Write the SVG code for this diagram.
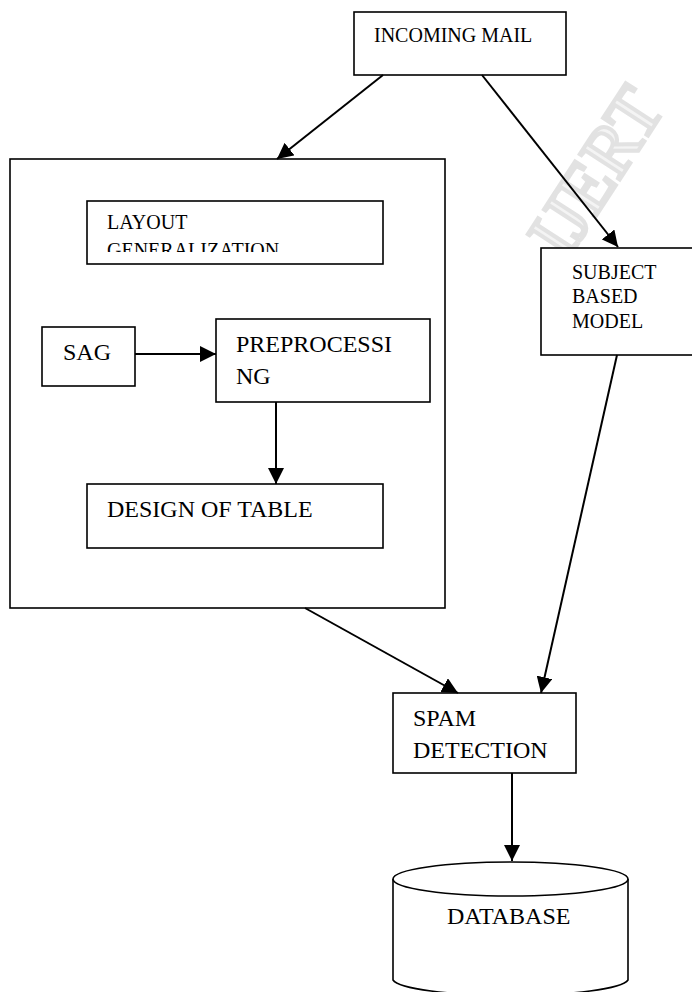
<svg xmlns="http://www.w3.org/2000/svg" width="692" height="992" viewBox="0 0 692 992">
<style>
.box{fill:#fff;stroke:#000;stroke-width:1.6}
.t{font-family:"Liberation Serif","Times New Roman",serif;fill:#000}
.s20{font-size:20px}
.s24{font-size:24px}
.con{stroke:#000;stroke-width:2;fill:none}
.wm{font-family:"Liberation Serif",serif;font-size:72px;fill:#f4f4f4;stroke:#e2e2e2;stroke-width:4}
</style>
<defs>
<marker id="ah" viewBox="0 0 16 16" markerWidth="16" markerHeight="16" refX="16" refY="8" orient="auto" markerUnits="userSpaceOnUse">
<path d="M0,0 L16,8 L0,16 z" fill="#000"/>
</marker>
<clipPath id="lgclip"><rect x="87" y="201" width="296" height="51"/></clipPath>
</defs>
<rect width="692" height="992" fill="#fff"/>
<g id="watermark">
<text class="wm" x="0" y="0" transform="translate(566,262) rotate(-57)">IJERT</text>
</g>
<g id="incoming-mail">
<rect class="box" x="354" y="12" width="212" height="63"/>
<text class="t s20" x="374" y="42">INCOMING MAIL</text>
</g>
<g id="container">
<rect class="box" x="10" y="159" width="435" height="449"/>
</g>
<g id="layout-generalization">
<rect class="box" x="87" y="201" width="296" height="63"/>
<g clip-path="url(#lgclip)">
<text class="t s20" x="107" y="229">LAYOUT</text>
<text class="t s20" x="107" y="257">GENERALIZATION</text>
</g>
</g>
<g id="sag">
<rect class="box" x="42" y="327" width="93" height="59"/>
<text class="t s24" x="63" y="360">SAG</text>
</g>
<g id="preprocessing">
<rect class="box" x="216" y="319" width="214" height="83"/>
<text class="t s24" x="236" y="352">PREPROCESSI</text>
<text class="t s24" x="236" y="384">NG</text>
</g>
<g id="design-of-table">
<rect class="box" x="87" y="484" width="296" height="64"/>
<text class="t s24" x="107" y="517">DESIGN OF TABLE</text>
</g>
<g id="subject-based-model">
<rect class="box" x="541" y="248" width="170" height="107"/>
<text class="t s20" x="572" y="279">SUBJECT</text>
<text class="t s20" x="572" y="303">BASED</text>
<text class="t s20" x="572" y="328">MODEL</text>
</g>
<g id="spam-detection">
<rect class="box" x="393" y="693" width="183" height="80"/>
<text class="t s24" x="413" y="726">SPAM</text>
<text class="t s24" x="413" y="758">DETECTION</text>
</g>
<g id="database">
<path class="box" d="M393,879 L393,980 A118,17 0 0 0 628,980 L628,879"/>
<ellipse class="box" cx="510.5" cy="879" rx="117.5" ry="17"/>
<text class="t s24" x="447" y="924">DATABASE</text>
</g>
<g id="connectors">
<line class="con" x1="383" y1="75" x2="277" y2="159" marker-end="url(#ah)"/>
<line class="con" x1="482" y1="75" x2="618" y2="247" marker-end="url(#ah)"/>
<line class="con" x1="135" y1="354" x2="216" y2="354" marker-end="url(#ah)"/>
<line class="con" x1="276" y1="402" x2="276" y2="484" marker-end="url(#ah)"/>
<line class="con" x1="305" y1="608" x2="458" y2="693" marker-end="url(#ah)"/>
<line class="con" x1="617" y1="355" x2="541" y2="693" marker-end="url(#ah)"/>
<line class="con" x1="512" y1="773" x2="512" y2="861" marker-end="url(#ah)"/>
</g>
</svg>
